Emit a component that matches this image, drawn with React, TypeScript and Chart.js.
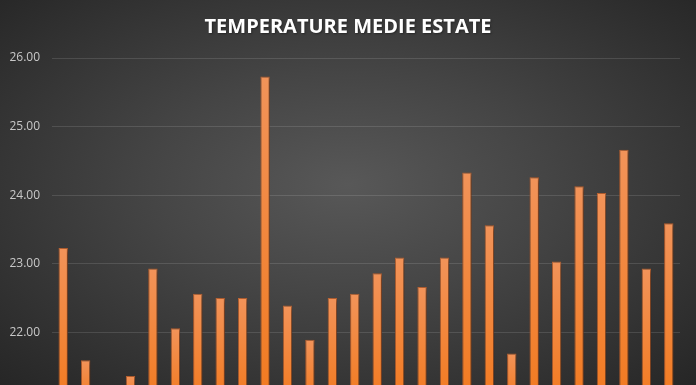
import React, { useEffect, useRef } from "react";
import { Chart, registerables } from "chart.js";

Chart.register(...registerables);

const TITLE = "TEMPERATURE MEDIE ESTATE";
const CATEGORIES = [
  "1", "2", "3", "4", "5", "6", "7", "8", "9", "10", "11", "12", "13", "14",
  "15", "16", "17", "18", "19", "20", "21", "22", "23", "24", "25", "26", "27", "28",
];
const TEMPERATURES = [
  23.23, 21.59, 21.1, 21.36, 22.93, 22.06, 22.56, 22.5, 22.5, 25.73, 22.39, 21.89, 22.5, 22.56,
  22.86, 23.09, 22.66, 23.09, 24.33, 23.56, 21.69, 24.26, 23.03, 24.13, 24.03, 24.66, 22.93, 23.59,
];
const Y_MIN = 21;
const Y_MAX = 26;
const Y_STEP = 1;

const shadowPlugin = {
  id: "barShadow",
  beforeDatasetsDraw(chart: any) {
    const c = chart.ctx;
    c.save();
    c.shadowColor = "rgba(0,0,0,0.55)";
    c.shadowBlur = 5;
    c.shadowOffsetX = 1.5;
    c.shadowOffsetY = 1.5;
  },
  afterDatasetsDraw(chart: any) {
    chart.ctx.restore();
  },
};

const titlePlugin = {
  id: "centeredTitle",
  afterDraw(chart: any) {
    const c = chart.ctx;
    c.save();
    c.fillStyle = "#ffffff";
    c.font = "bold 20px 'Open Sans'";
    c.textAlign = "center";
    c.textBaseline = "middle";
    c.shadowColor = "rgba(0,0,0,0.35)";
    c.shadowBlur = 2;
    c.shadowOffsetX = 1;
    c.shadowOffsetY = 1;
    c.fillText(TITLE, chart.width / 2, 27);
    c.restore();
  },
};

export default function App() {
  const ref = useRef<HTMLCanvasElement | null>(null);

  useEffect(() => {
    document.body.style.margin = "0";
    const canvas = ref.current!;
    const chart = new Chart(canvas, {
      type: "bar",
      data: {
        labels: CATEGORIES,
        datasets: [
          {
            label: TITLE,
            data: TEMPERATURES,
            backgroundColor: (ctx: any) => {
              const ch = ctx.chart;
              const ys = ch.scales && ch.scales.y;
              if (!ys || !ch.chartArea || ctx.raw == null) return "#f4883a";
              const top = ys.getPixelForValue(ctx.raw);
              const bottom = ys.getPixelForValue(Y_MIN);
              if (!isFinite(top) || !isFinite(bottom) || top === bottom) return "#f4883a";
              const g = ch.ctx.createLinearGradient(0, top, 0, bottom);
              g.addColorStop(0, "#f29359");
              g.addColorStop(1, "#f27a20");
              return g;
            },
            borderColor: "rgba(205,105,50,0.9)",
            borderWidth: 1,
            barPercentage: 0.84,
            categoryPercentage: 0.5,
          },
        ],
      },
      options: {
        animation: false,
        responsive: false,
        maintainAspectRatio: false,
        layout: { padding: { left: 0, right: 16, top: 58, bottom: 10 } },
        plugins: {
          legend: { display: false },
          tooltip: { enabled: false },
          title: { display: false },
        },
        scales: {
          x: { display: false },
          y: {
            min: Y_MIN,
            max: Y_MAX,
            afterFit: (scale: any) => {
              scale.width = 52;
            },
            ticks: {
              stepSize: Y_STEP,
              color: "#c8c8c8",
              font: { family: "Open Sans", size: 12 },
              padding: 12,
              callback: (v: any) => Number(v).toFixed(2),
            },
            grid: { color: "rgba(255,255,255,0.12)", lineWidth: 1, drawTicks: false },
            border: { display: false },
          },
        },
      },
      plugins: [shadowPlugin, titlePlugin],
    });
    return () => chart.destroy();
  }, []);

  return (
    <div
      style={{
        position: "fixed",
        left: 0,
        top: 0,
        width: 696,
        height: 385,
        overflow: "hidden",
        background: "radial-gradient(ellipse at 50% 48%, #585858 0%, #454545 40%, #262626 100%)",
      }}
    >
      <canvas ref={ref} width={696} height={420} style={{ display: "block", width: 696, height: 420 }} />
    </div>
  );
}
